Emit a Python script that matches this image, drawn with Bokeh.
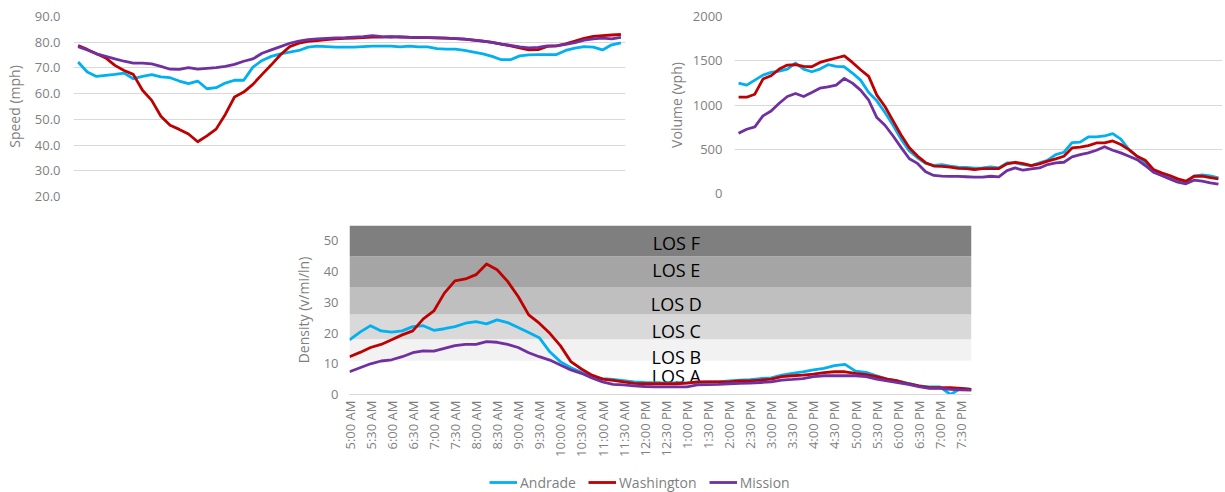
from bokeh.plotting import figure
from bokeh.layouts import column, row
from bokeh.models import (Range1d, FixedTicker, Legend, LegendItem, Spacer,
                          ColumnDataSource, NumeralTickFormatter)
from bokeh.core.properties import value
from bokeh.embed import file_html
from bokeh.resources import INLINE

# ---------------- data ----------------
times = ["5:00 AM", "5:15 AM", "5:30 AM", "5:45 AM", "6:00 AM", "6:15 AM", "6:30 AM", "6:45 AM",
         "7:00 AM", "7:15 AM", "7:30 AM", "7:45 AM", "8:00 AM", "8:15 AM", "8:30 AM", "8:45 AM",
         "9:00 AM", "9:15 AM", "9:30 AM", "9:45 AM", "10:00 AM", "10:15 AM", "10:30 AM", "10:45 AM",
         "11:00 AM", "11:15 AM", "11:30 AM", "11:45 AM", "12:00 PM", "12:15 PM", "12:30 PM", "12:45 PM",
         "1:00 PM", "1:15 PM", "1:30 PM", "1:45 PM", "2:00 PM", "2:15 PM", "2:30 PM", "2:45 PM",
         "3:00 PM", "3:15 PM", "3:30 PM", "3:45 PM", "4:00 PM", "4:15 PM", "4:30 PM", "4:45 PM",
         "5:00 PM", "5:15 PM", "5:30 PM", "5:45 PM", "6:00 PM", "6:15 PM", "6:30 PM", "6:45 PM",
         "7:00 PM", "7:15 PM", "7:30 PM", "7:45 PM"]

series_names = ["Andrade", "Washington", "Mission"]
series_colors = ["#00b0f0", "#c00000", "#7030a0"]

andrade_speed = [72.3, 68.4, 66.7, 67.1, 67.5, 68.0, 65.8, 66.7, 67.4, 66.5,
                 66.2, 64.9, 63.9, 64.9, 61.9, 62.3, 64.1, 65.2, 65.2, 70.3,
                 72.9, 74.5, 75.5, 76.1, 76.8, 78.1, 78.5, 78.3, 78.1, 78.1,
                 78.1, 78.3, 78.5, 78.5, 78.5, 78.2, 78.5, 78.2, 78.2, 77.5,
                 77.3, 77.3, 76.8, 76.1, 75.5, 74.5, 73.2, 73.2, 74.7, 75.1,
                 75.2, 75.2, 75.2, 76.8, 77.7, 78.3, 78.1, 77.0, 79.0, 79.7]
washington_speed = [78.7, 77.2, 75.5, 73.9, 71.0, 69.0, 67.5, 61.3, 57.4, 51.2,
                    47.7, 46.1, 44.3, 41.3, 43.6, 46.2, 51.9, 58.7, 60.6, 63.6,
                    67.5, 71.2, 75.1, 78.3, 79.6, 80.3, 80.6, 81.0, 81.3, 81.5,
                    81.6, 81.8, 82.0, 82.0, 82.2, 82.0, 81.9, 81.8, 81.8, 81.7,
                    81.6, 81.4, 81.2, 80.8, 80.4, 79.9, 79.3, 78.6, 77.8, 77.0,
                    77.1, 78.4, 78.6, 79.4, 80.4, 81.5, 82.3, 82.6, 82.8, 83.0]
mission_speed = [78.3, 77.0, 75.5, 74.5, 73.5, 72.6, 71.9, 71.9, 71.6, 70.6,
                 69.5, 69.4, 70.1, 69.5, 69.8, 70.1, 70.6, 71.4, 72.6, 73.5,
                 75.7, 77.0, 78.3, 79.6, 80.4, 81.0, 81.3, 81.5, 81.7, 81.8,
                 82.0, 82.2, 82.6, 82.2, 82.0, 82.2, 82.0, 81.9, 81.8, 81.7,
                 81.6, 81.4, 81.2, 80.8, 80.4, 79.9, 79.3, 78.8, 78.2, 77.8,
                 78.0, 78.6, 78.6, 79.2, 79.8, 80.8, 81.3, 81.6, 81.3, 81.9]

andrade_vol = [1247, 1224, 1281, 1338, 1368, 1383, 1406, 1474, 1406, 1376,
               1406, 1455, 1436, 1432, 1361, 1281, 1141, 1047, 915, 771,
               612, 480, 404, 340, 317, 325, 310, 299, 295, 286,
               289, 301, 289, 346, 346, 327, 316, 346, 376, 440,
               466, 575, 580, 639, 639, 650, 677, 615, 496, 421,
               346, 252, 214, 177, 139, 120, 195, 210, 200, 178]
washington_vol = [1088, 1088, 1122, 1293, 1330, 1406, 1451, 1455, 1436, 1432,
                  1481, 1508, 1531, 1555, 1481, 1398, 1323, 1111, 983, 820,
                  658, 518, 423, 348, 310, 306, 299, 283, 280, 271,
                  282, 282, 282, 335, 353, 338, 316, 335, 365, 391,
                  421, 515, 523, 541, 571, 571, 594, 553, 496, 421,
                  376, 271, 233, 203, 165, 139, 195, 197, 180, 165]
mission_vol = [680, 726, 752, 877, 933, 1020, 1096, 1130, 1096, 1141,
               1190, 1206, 1224, 1300, 1247, 1168, 1054, 858, 771, 650,
               518, 393, 340, 246, 204, 197, 193, 193, 189, 184,
               184, 195, 188, 259, 289, 263, 278, 289, 327, 346,
               353, 414, 440, 459, 489, 529, 489, 459, 421, 383,
               316, 241, 203, 165, 128, 110, 150, 139, 120, 105]

andrade_den = [17.8, 20.3, 22.4, 20.7, 20.3, 20.7, 22.1, 22.4, 20.9, 21.4,
               22.1, 23.2, 23.7, 23.0, 24.3, 23.4, 21.8, 20.2, 18.5, 13.9,
               10.7, 8.7, 7.2, 5.8, 5.2, 4.9, 4.5, 4.1, 3.9, 3.8,
               3.8, 3.8, 3.8, 3.9, 4.1, 4.1, 4.4, 4.7, 4.8, 5.2,
               5.4, 6.3, 6.9, 7.4, 8.0, 8.5, 9.4, 9.8, 7.6, 7.2,
               6.1, 5.0, 4.4, 3.6, 2.8, 2.5, 2.5, 0.0, 2.0, 1.7]
washington_den = [12.3, 13.7, 15.3, 16.3, 17.8, 19.4, 20.7, 24.6, 27.2, 33.0,
                  37.0, 37.6, 39.0, 42.5, 40.6, 36.8, 31.9, 25.9, 23.2, 19.9,
                  15.9, 10.7, 8.3, 6.3, 5.0, 4.6, 4.1, 3.6, 3.5, 3.5,
                  3.5, 3.5, 3.7, 4.1, 4.1, 4.1, 4.1, 4.4, 4.4, 4.7,
                  5.0, 5.8, 6.1, 6.3, 6.6, 7.1, 7.4, 7.4, 6.9, 6.5,
                  5.8, 5.0, 4.4, 3.5, 2.8, 2.2, 2.2, 2.2, 2.0, 1.7]
mission_den = [7.4, 8.7, 10.0, 10.9, 11.3, 12.3, 13.6, 14.2, 14.1, 15.0,
               15.9, 16.3, 16.3, 17.2, 17.0, 16.3, 15.3, 13.6, 12.3, 11.2,
               9.6, 8.0, 6.9, 5.4, 4.1, 3.3, 3.1, 2.8, 2.6, 2.5,
               2.5, 2.5, 2.5, 3.1, 3.2, 3.3, 3.5, 3.6, 3.7, 3.9,
               4.1, 4.7, 4.9, 5.2, 5.8, 6.1, 6.1, 6.1, 6.1, 5.8,
               5.0, 4.4, 3.9, 3.3, 2.6, 2.0, 2.0, 1.7, 1.5, 1.4]

los_labels = ["LOS A", "LOS B", "LOS C", "LOS D", "LOS E", "LOS F"]
los_lower = [0, 11, 18, 26, 35, 45]
los_upper = [11, 18, 26, 35, 45, 55]

speed_ticks = [20, 30, 40, 50, 60, 70, 80, 90]
volume_ticks = [0, 500, 1000, 1500, 2000]
density_ticks = [0, 10, 20, 30, 40, 50]

# ---------------- styles ----------------
FONT = "Open Sans"
GRAY = "#7f7f7f"
GRID = "#d9d9d9"
LW = 2.8
los_colors = ["#ffffff", "#f2f2f2", "#d9d9d9", "#bfbfbf", "#a5a5a5", "#7f7f7f"]
los_label_y = [6.1, 12.1, 20.7, 29.4, 40.4, 49.3]
los_label_x = 31

xs = list(range(len(times)))


def style_yaxis(p, label, ticks, standoff, label_standoff):
    ax = p.yaxis[0]
    ax.ticker = FixedTicker(ticks=ticks)
    ax.axis_label = label
    ax.axis_label_text_font = FONT
    ax.axis_label_text_font_size = "14px"
    ax.axis_label_text_font_style = "normal"
    ax.axis_label_text_color = GRAY
    ax.axis_label_standoff = label_standoff
    ax.major_label_text_font = FONT
    ax.major_label_text_font_size = "13px"
    ax.major_label_text_color = GRAY
    ax.major_label_standoff = standoff
    ax.axis_line_color = None
    ax.major_tick_line_color = None
    ax.minor_tick_line_color = None
    ax.major_tick_out = 0
    ax.major_tick_in = 0


def base_fig(fw, fh, left, right, top, bottom, xr, yr):
    p = figure(frame_width=fw, frame_height=fh, x_range=xr, y_range=yr,
               output_backend="svg", toolbar_location=None,
               min_border_left=left, min_border_right=right,
               min_border_top=top, min_border_bottom=bottom)
    p.outline_line_color = None
    p.xgrid.visible = False
    p.ygrid.grid_line_color = GRID
    p.ygrid.grid_line_width = 1
    p.background_fill_color = "white"
    p.border_fill_color = "white"
    return p


# ---------------- speed ----------------
p1 = base_fig(552, 180, 73, 8, 16, 10, Range1d(-0.5, len(times) - 0.5), Range1d(20, 90))
p1.xaxis.visible = False
style_yaxis(p1, "Speed (mph)", speed_ticks, 13, 8)
p1.yaxis[0].formatter = NumeralTickFormatter(format="0.0")
p1.ygrid.ticker = FixedTicker(ticks=speed_ticks)
for ys, c in zip([andrade_speed, washington_speed, mission_speed], series_colors):
    p1.line(xs, ys, line_color=c, line_width=LW, line_join="round")

# ---------------- volume ----------------
p2 = base_fig(488, 177, 101, 3, 11, 18, Range1d(-0.5, len(times) - 0.5), Range1d(0, 2000))
p2.xaxis.visible = False
style_yaxis(p2, "Volume (vph)", volume_ticks, 12, 4)
p2.ygrid.ticker = FixedTicker(ticks=volume_ticks)
for ys, c in zip([andrade_vol, washington_vol, mission_vol], series_colors):
    p2.line(xs, ys, line_color=c, line_width=LW, line_join="round")

# ---------------- density ----------------
p3 = base_fig(622, 169, 58, 20, 19, 78, Range1d(0, len(times) - 1), Range1d(0, 55))
p3.ygrid.visible = False
style_yaxis(p3, "Density (v/mi/ln)", density_ticks, 11, 8)
band_src = ColumnDataSource(dict(bottom=los_lower, top=los_upper, color=los_colors,
                                 left=[0] * len(los_lower),
                                 right=[len(times) - 1] * len(los_lower)))
p3.quad(left="left", right="right", bottom="bottom", top="top", fill_color="color",
        line_color=None, source=band_src)
p3.text(x=[los_label_x] * len(los_labels), y=los_label_y, text=los_labels,
        text_font=value(FONT), text_font_size="18px", text_color="#000000",
        text_align="center", text_baseline="middle")

xa = p3.xaxis[0]
xa.ticker = FixedTicker(ticks=list(range(0, len(times), 2)))
xa.major_label_overrides = {i: times[i] for i in range(0, len(times), 2)}
xa.major_label_orientation = 3.14159265 / 2
xa.major_label_text_font = FONT
xa.major_label_text_font_size = "13px"
xa.major_label_text_color = GRAY
xa.major_label_standoff = 6
xa.axis_line_color = GRID
xa.major_tick_line_color = None
xa.minor_tick_line_color = None
xa.major_tick_out = 0
xa.major_tick_in = 0

density_series = [andrade_den, washington_den, mission_den]
for ys, c in zip(density_series, series_colors):
    p3.line(xs, ys, line_color=c, line_width=LW, line_join="round")

# ---------------- shared legend (own small strip below the density chart) -------
# the strip's y range lies below all the data, so its lines only feed the legend
p4 = figure(frame_width=320, frame_height=20, x_range=Range1d(0, 1), y_range=Range1d(-20, -19),
            output_backend="svg", toolbar_location=None,
            min_border_left=0, min_border_right=0, min_border_top=0, min_border_bottom=0)
p4.axis.visible = False
p4.grid.visible = False
p4.outline_line_color = None
items = []
for ys, name, c in zip(density_series, series_names, series_colors):
    r = p4.line(xs, ys, line_color=c, line_width=LW)
    items.append(LegendItem(label=name, renderers=[r]))
legend = Legend(items=items, orientation="horizontal", location=(0, 0),
                border_line_color=None, background_fill_alpha=0,
                glyph_width=28, glyph_height=14, label_standoff=3, spacing=12,
                padding=0, margin=0, label_height=20,
                label_text_font=FONT, label_text_font_size="14px",
                label_text_color=GRAY)
p4.add_layout(legend)

layout = column(row(p1, p2),
                row(Spacer(width=290, height=10), p3),
                row(Spacer(width=489, height=10), p4))

with open("out.html", "w") as f:
    f.write(file_html(layout, INLINE))
